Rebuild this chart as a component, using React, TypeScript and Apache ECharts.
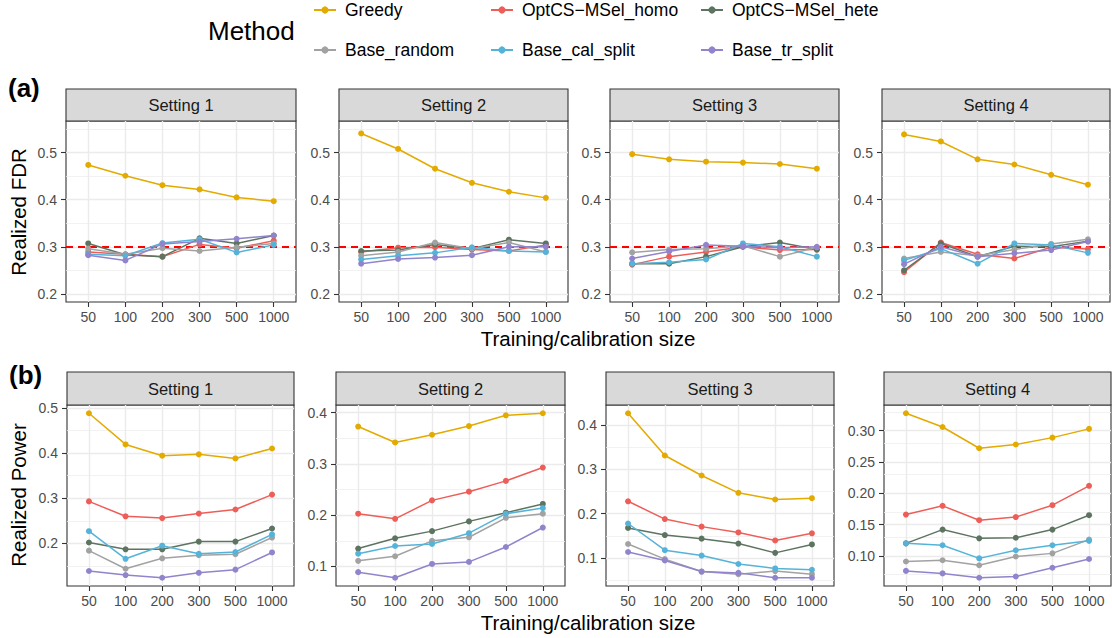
import { useEffect, useRef } from "react";
import * as echarts from "echarts";

// ---------- data ----------
const sizeLabels = ["50", "100", "200", "300", "500", "1000"];
const methods = [
  "Greedy",
  "OptCS−MSel_homo",
  "OptCS−MSel_hete",
  "Base_random",
  "Base_cal_split",
  "Base_tr_split",
];
const methodColors = ["#E3AA00", "#EE5E59", "#5D7461", "#A2A2A2", "#55B3D9", "#9184CC"];
const settingNames = ["Setting 1", "Setting 2", "Setting 3", "Setting 4"];

// Realized FDR, rows in method order
const fdrSetting1 = [
  [0.474, 0.451, 0.431, 0.422, 0.405, 0.397],
  [0.289, 0.284, 0.279, 0.305, 0.297, 0.313],
  [0.307, 0.283, 0.279, 0.318, 0.307, 0.324],
  [0.296, 0.284, 0.297, 0.291, 0.299, 0.307],
  [0.284, 0.281, 0.308, 0.316, 0.288, 0.304],
  [0.282, 0.271, 0.306, 0.311, 0.317, 0.324],
];
const fdrSetting2 = [
  [0.541, 0.508, 0.466, 0.436, 0.417, 0.404],
  [0.289, 0.298, 0.299, 0.294, 0.291, 0.304],
  [0.291, 0.293, 0.305, 0.296, 0.315, 0.307],
  [0.281, 0.289, 0.309, 0.296, 0.309, 0.289],
  [0.273, 0.281, 0.287, 0.299, 0.291, 0.289],
  [0.264, 0.274, 0.277, 0.282, 0.300, 0.300],
];
const fdrSetting3 = [
  [0.497, 0.486, 0.481, 0.479, 0.476, 0.466],
  [0.262, 0.279, 0.289, 0.300, 0.293, 0.294],
  [0.264, 0.264, 0.279, 0.300, 0.309, 0.294],
  [0.288, 0.294, 0.296, 0.302, 0.279, 0.299],
  [0.264, 0.267, 0.273, 0.307, 0.300, 0.279],
  [0.275, 0.290, 0.304, 0.301, 0.298, 0.300],
];
const fdrSetting4 = [
  [0.539, 0.524, 0.486, 0.475, 0.453, 0.432],
  [0.246, 0.309, 0.284, 0.275, 0.299, 0.295],
  [0.250, 0.307, 0.279, 0.301, 0.300, 0.312],
  [0.275, 0.289, 0.281, 0.294, 0.306, 0.316],
  [0.271, 0.296, 0.264, 0.307, 0.304, 0.287],
  [0.263, 0.300, 0.279, 0.286, 0.293, 0.311],
];

// Realized Power, rows in method order
const powerSetting1 = [
  [0.488, 0.419, 0.394, 0.397, 0.388, 0.410],
  [0.293, 0.260, 0.256, 0.266, 0.275, 0.308],
  [0.202, 0.187, 0.187, 0.204, 0.204, 0.233],
  [0.184, 0.144, 0.167, 0.174, 0.176, 0.213],
  [0.227, 0.166, 0.195, 0.177, 0.181, 0.220],
  [0.139, 0.130, 0.124, 0.135, 0.142, 0.180],
];
const powerSetting2 = [
  [0.373, 0.342, 0.357, 0.374, 0.395, 0.399],
  [0.203, 0.193, 0.229, 0.246, 0.267, 0.293],
  [0.135, 0.155, 0.169, 0.188, 0.205, 0.222],
  [0.111, 0.120, 0.150, 0.157, 0.195, 0.203],
  [0.125, 0.140, 0.144, 0.165, 0.203, 0.214],
  [0.089, 0.078, 0.105, 0.109, 0.138, 0.176],
];
const powerSetting3 = [
  [0.426, 0.331, 0.286, 0.247, 0.232, 0.235],
  [0.228, 0.188, 0.171, 0.158, 0.140, 0.156],
  [0.168, 0.152, 0.144, 0.133, 0.112, 0.131],
  [0.132, 0.098, 0.070, 0.064, 0.071, 0.064],
  [0.178, 0.118, 0.106, 0.087, 0.077, 0.074],
  [0.114, 0.095, 0.070, 0.067, 0.056, 0.056],
];
const powerSetting4 = [
  [0.328, 0.306, 0.272, 0.278, 0.289, 0.303],
  [0.166, 0.180, 0.157, 0.162, 0.181, 0.212],
  [0.120, 0.142, 0.128, 0.129, 0.142, 0.165],
  [0.091, 0.093, 0.085, 0.099, 0.104, 0.126],
  [0.120, 0.117, 0.096, 0.109, 0.117, 0.124],
  [0.076, 0.072, 0.065, 0.067, 0.081, 0.095],
];

const fdrTicks = [0.2, 0.3, 0.4, 0.5];
const fdrLimits = [0.2, 0.55];
const fdrTarget = 0.3;
const powerTicks1 = [0.2, 0.3, 0.4, 0.5];
const powerTicks2 = [0.1, 0.2, 0.3, 0.4];
const powerTicks3 = [0.1, 0.2, 0.3, 0.4];
const powerTicks4 = [0.1, 0.15, 0.2, 0.25, 0.3];

// ---------- layout ----------
const FONT = "Liberation Sans";
const rows = [
  { stripTop: 89, top: 121, bottom: 302, cols: [[66, 296], [339, 568], [610, 839], [882, 1110]] },
  { stripTop: 372, top: 405, bottom: 586, cols: [[67, 294], [336, 565], [606, 834], [884, 1111]] },
];

function minorTicks(majors: number[], lo: number, hi: number) {
  const step = majors[1] - majors[0];
  const out: number[] = [];
  for (let k = -1; k <= majors.length + 1; k++) {
    const v = +(majors[0] + step * (k + 0.5)).toFixed(5);
    if (v >= lo && v <= hi) out.push(v);
  }
  return out;
}

function buildOption() {
  const panels: any[] = [];
  const fdrSets = [fdrSetting1, fdrSetting2, fdrSetting3, fdrSetting4];
  const powSets = [powerSetting1, powerSetting2, powerSetting3, powerSetting4];
  const powTicks = [powerTicks1, powerTicks2, powerTicks3, powerTicks4];
  const fpad = (fdrLimits[1] - fdrLimits[0]) * 0.05;
  fdrSets.forEach((d, c) => {
    panels.push({ row: 0, col: c, data: d, ticks: fdrTicks, min: fdrLimits[0] - fpad, max: fdrLimits[1] + fpad, hline: true });
  });
  powSets.forEach((d, c) => {
    const all = d.flat();
    const lo = Math.min(...all);
    const hi = Math.max(...all);
    const pad = (hi - lo) * 0.05;
    panels.push({ row: 1, col: c, data: d, ticks: powTicks[c], min: lo - pad, max: hi + pad, hline: false });
  });

  const grid: any[] = [];
  const xAxis: any[] = [];
  const yAxis: any[] = [];
  const series: any[] = [];
  const graphic: any[] = [];
  const xs = [1, 2, 3, 4, 5, 6];

  panels.forEach((p, i) => {
    const r = rows[p.row];
    const [l, rr] = r.cols[p.col];
    grid.push({
      left: l, top: r.top, width: rr - l, height: r.bottom - r.top,
      show: true, backgroundColor: "#FFFFFF", borderColor: "#333333", borderWidth: 1.1,
    });
    xAxis.push({
      gridIndex: i, type: "value", min: 0.4, max: 6.6,
      axisLine: { show: false },
      axisTick: { show: true, length: 5, customValues: xs, lineStyle: { color: "#333333", width: 1.1 } },
      axisLabel: {
        customValues: xs, margin: 8, fontSize: 14, color: "#4D4D4D", fontFamily: FONT,
        formatter: (v: number) => sizeLabels[Math.round(v) - 1] ?? "",
      },
      splitLine: { show: false },
    });
    const step = p.ticks[1] - p.ticks[0];
    const dec = step < 0.09 ? 2 : 1;
    yAxis.push({
      gridIndex: i, type: "value", min: p.min, max: p.max,
      axisLine: { show: false },
      axisTick: { show: true, length: 5, customValues: p.ticks, lineStyle: { color: "#333333", width: 1.1 } },
      axisLabel: {
        customValues: p.ticks, margin: 9, fontSize: 14, color: "#4D4D4D", fontFamily: FONT,
        formatter: (v: number) => v.toFixed(dec),
      },
      splitLine: { show: false },
    });
    const gl: any[] = [];
    minorTicks(p.ticks, p.min, p.max).forEach((v) =>
      gl.push({ yAxis: v, lineStyle: { color: "#EFEFEF", width: 0.8, type: "solid" } })
    );
    p.ticks.forEach((v: number) =>
      gl.push({ yAxis: v, lineStyle: { color: "#EBEBEB", width: 1.4, type: "solid" } })
    );
    xs.forEach((v) => gl.push({ xAxis: v, lineStyle: { color: "#EBEBEB", width: 1.4, type: "solid" } }));
    if (p.hline) {
      gl.push({ yAxis: fdrTarget, lineStyle: { color: "#FF0000", width: 2.2, type: [7, 5] } });
    }
    series.push({
      type: "line", xAxisIndex: i, yAxisIndex: i, data: [], silent: true,
      markLine: {
        silent: true, symbol: ["none", "none"], label: { show: false }, animation: false,
        emphasis: { disabled: true }, data: gl,
      },
    });
    p.data.forEach((vals: number[], k: number) => {
      series.push({
        type: "line", name: methods[k], xAxisIndex: i, yAxisIndex: i, z: 10,
        data: vals.map((v, j) => [xs[j], v]),
        symbol: "circle", symbolSize: 6, showSymbol: true,
        lineStyle: { color: methodColors[k], width: 1.5 },
        itemStyle: { color: methodColors[k] },
        emphasis: { disabled: true },
      });
    });
    // strip
    graphic.push({
      type: "rect", shape: { x: l, y: r.stripTop, width: rr - l, height: r.top - r.stripTop },
      style: { fill: "#D9D9D9", stroke: "#333333", lineWidth: 1.1 }, silent: true,
    });
    graphic.push({
      type: "text", x: (l + rr) / 2, y: (r.stripTop + r.top) / 2,
      style: {
        text: settingNames[p.col], fill: "#1A1A1A", fontSize: 16.5, fontFamily: FONT,
        align: "center", verticalAlign: "middle", textAlign: "center", textVerticalAlign: "middle",
      },
      silent: true,
    });
  });

  const txt = (text: string, x: number, y: number, size: number, extra: any = {}) => ({
    type: "text", x, y, rotation: extra.rotation || 0, silent: true,
    style: {
      text, fill: extra.fill || "#000000", fontSize: size, fontFamily: FONT,
      fontWeight: extra.weight || "normal",
      align: extra.align || "center", verticalAlign: "middle",
      textAlign: extra.align || "center", textVerticalAlign: "middle",
    },
  });
  graphic.push(txt("(a)", 8, 88, 26, { weight: "bold", align: "left" }));
  graphic.push(txt("(b)", 9, 375, 26, { weight: "bold", align: "left" }));
  graphic.push(txt("Training/calibration size", 588, 338, 20.5));
  graphic.push(txt("Training/calibration size", 588, 622, 20.5));
  graphic.push(txt("Realized FDR", 18, 212, 20.5, { rotation: Math.PI / 2 }));
  graphic.push(txt("Realized Power", 18, 495, 20.5, { rotation: Math.PI / 2 }));
  graphic.push(txt("Method", 208, 31, 26, { align: "left" }));

  const legendPos = [
    [313, 1], [490, 1], [700, 1],
    [313, 41], [490, 41], [700, 41],
  ];
  const legend = methods.map((m, k) => ({
    data: [m], left: legendPos[k][0], top: legendPos[k][1], padding: 0,
    itemWidth: 22, itemHeight: 9, selectedMode: false,
    textStyle: { fontSize: 17.5, color: "#000000", fontFamily: FONT, padding: [0, 0, 0, 4] },
  }));

  return {
    animation: false,
    backgroundColor: "#FFFFFF",
    textStyle: { fontFamily: FONT },
    legend,
    grid,
    xAxis,
    yAxis,
    series,
    graphic,
  };
}

export default function App() {
  const ref = useRef<HTMLDivElement>(null);
  useEffect(() => {
    if (!ref.current) return;
    const chart = echarts.init(ref.current, undefined, { renderer: "svg" });
    chart.setOption(buildOption() as any);
    return () => chart.dispose();
  }, []);
  return (
    <div
      ref={ref}
      style={{ position: "fixed", left: 0, top: 0, width: 1112, height: 638, background: "#fff" }}
    />
  );
}
